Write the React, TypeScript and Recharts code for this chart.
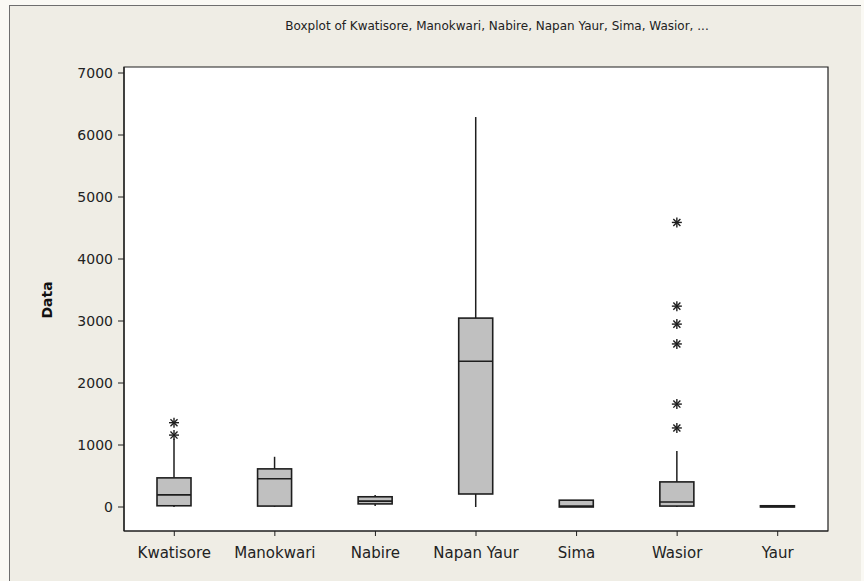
import { ComposedChart, Bar, XAxis, YAxis, CartesianGrid, ReferenceArea } from "recharts"

const sites = ["Kwatisore", "Manokwari", "Nabire", "Napan Yaur", "Sima", "Wasior", "Yaur"]
const whiskerLow = [0, 0, 15, 0, 0, 0, 0]
const q1 = [20, 15, 50, 210, 0, 15, 0]
const median = [195, 455, 95, 2350, 15, 80, 8]
const q3 = [470, 615, 165, 3047, 110, 405, 20]
const whiskerHigh = [1100, 810, 195, 6290, 110, 905, 20]
const outliers = [[1160, 1360], [], [], [], [], [1275, 1660, 2630, 2950, 3240, 4590], []]
const yTicks = [0, 1000, 2000, 3000, 4000, 5000, 6000, 7000]
const yDomain = [-387, 7097]

const rows = sites.map((name, i) => ({
  name,
  range: [whiskerLow[i], whiskerHigh[i]],
  q1: q1[i],
  med: median[i],
  q3: q3[i],
  out: outliers[i],
}))

const INK = "#1e1e1e"
const FONT = "'DejaVu Sans', sans-serif"

function Asterisk({ cx, cy }: { cx: number; cy: number }) {
  const r = 5
  const dx = r * Math.cos(Math.PI / 4)
  return (
    <g stroke={INK} strokeWidth={1.4}>
      <line x1={cx} y1={cy - r} x2={cx} y2={cy + r} />
      <line x1={cx - r} y1={cy} x2={cx + r} y2={cy} />
      <line x1={cx - dx} y1={cy - dx} x2={cx + dx} y2={cy + dx} />
      <line x1={cx - dx} y1={cy + dx} x2={cx + dx} y2={cy - dx} />
    </g>
  )
}

function BoxShape(props: any) {
  const { x, y, width, height, payload } = props
  const [lo, hi] = payload.range
  const top = Math.min(y, y + height)
  const h = Math.abs(height)
  // linear scale, so map any value from the whisker bar's pixel span
  const py = (v: number) => top + ((hi - v) / (hi - lo)) * h
  const cx = x + width / 2
  return (
    <g>
      <line x1={cx} x2={cx} y1={py(hi)} y2={py(payload.q3)} stroke={INK} strokeWidth={1.5} />
      <line x1={cx} x2={cx} y1={py(payload.q1)} y2={py(lo)} stroke={INK} strokeWidth={1.5} />
      <rect
        x={x}
        y={py(payload.q3)}
        width={width}
        height={Math.max(py(payload.q1) - py(payload.q3), 0.5)}
        fill="#c0c0c0"
        stroke={INK}
        strokeWidth={1.6}
      />
      <line x1={x} x2={x + width} y1={py(payload.med)} y2={py(payload.med)} stroke={INK} strokeWidth={1.6} />
      {payload.out.map((v: number, k: number) => (
        <Asterisk key={k} cx={cx} cy={py(v)} />
      ))}
    </g>
  )
}

export default function App() {
  return (
    <div style={{ position: "absolute", left: 0, top: 0, width: 864, height: 581, background: "#faf9f4", fontFamily: FONT }}>
      <div
        style={{
          position: "absolute",
          left: 9,
          top: 5,
          width: 851,
          height: 575,
          background: "#efede5",
          borderLeft: "1px solid #6e6e6e",
          borderTop: "1px solid #6e6e6e",
        }}
      />
      <div
        style={{
          position: "absolute",
          left: 0,
          width: 994,
          top: 19,
          textAlign: "center",
          fontSize: 12,
          color: "#222",
        }}
      >
        Boxplot of Kwatisore, Manokwari, Nabire, Napan Yaur, Sima, Wasior, ...
      </div>
      <div
        style={{
          position: "absolute",
          left: 47,
          top: 300,
          transform: "translate(-50%, -50%) rotate(-90deg)",
          fontSize: 14,
          fontWeight: "bold",
          color: "#111",
        }}
      >
        Data
      </div>
      <div style={{ position: "absolute", left: 0, top: 0 }}>
        <ComposedChart width={864} height={581} data={rows} margin={{ top: 67, right: 36, left: 44, bottom: 20 }}>
          <CartesianGrid horizontal={false} vertical={false} fill="#ffffff" />
          <ReferenceArea
            x1={sites[0]}
            x2={sites[sites.length - 1]}
            y1={yDomain[0]}
            y2={yDomain[1]}
            fill="none"
            stroke={INK}
            strokeWidth={1.2}
            ifOverflow="visible"
          />
          <XAxis
            dataKey="name"
            tickLine={{ stroke: INK }}
            axisLine={{ stroke: INK, strokeWidth: 1.2 }}
            tickSize={5}
            tickMargin={11}
            height={30}
            tick={{ fontSize: 15, fill: "#222", fontFamily: FONT }}
            interval={0}
          />
          <YAxis
            domain={yDomain}
            ticks={yTicks}
            allowDataOverflow
            width={80}
            tickSize={6}
            tickMargin={5}
            tickLine={{ stroke: INK }}
            axisLine={{ stroke: INK, strokeWidth: 1.2 }}
            tick={{ fontSize: 14, fill: "#222", fontFamily: FONT }}
          />
          <Bar dataKey="range" barSize={34} shape={BoxShape} isAnimationActive={false} />
        </ComposedChart>
      </div>
    </div>
  )
}
